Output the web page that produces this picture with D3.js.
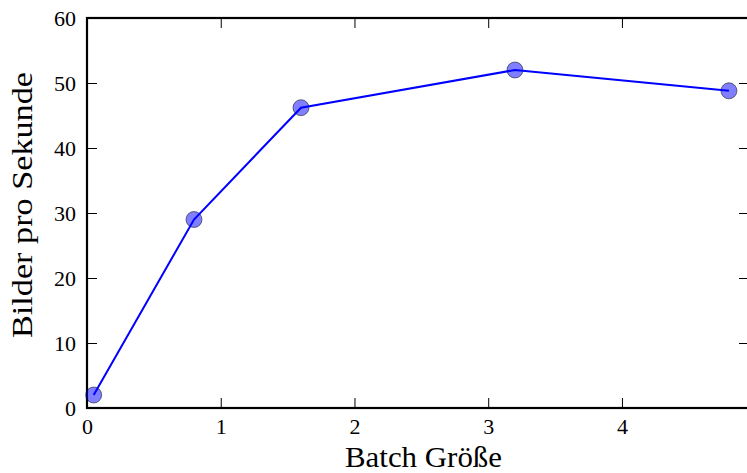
<!DOCTYPE html>
<html>
<head>
<meta charset="utf-8">
<script src="https://cdn.jsdelivr.net/npm/d3@7"></script>
<style>
  html, body { margin: 0; padding: 0; background: #fff; }
  svg { display: block; }
  text { font-family: "Liberation Serif", "DejaVu Serif", serif; fill: #000; }
</style>
</head>
<body>
<svg id="chart" width="747" height="473"></svg>
<script>
// Throughput measurements
const batchSizes = [0.05, 0.8, 1.6, 3.2, 4.8];
const imagesPerSecond = [2.0, 29.0, 46.2, 52.0, 48.8];
const xTicks = [0, 1, 2, 3, 4];
const yTicks = [0, 10, 20, 30, 40, 50, 60];

const svg = d3.select("#chart");
const plotLeft = 87, plotRight = 749, plotTop = 18, plotBottom = 408;

const x = d3.scaleLinear().domain([0, 4.95]).range([plotLeft, plotRight]);
const y = d3.scaleLinear().domain([0, 60]).range([plotBottom, plotTop]);

const tickLen = 10;

// inward ticks on all four sides
const axes = svg.append("g");
axes.append("g").attr("transform", `translate(0,${plotBottom})`)
  .call(d3.axisBottom(x).tickValues(xTicks).tickSize(-tickLen).tickPadding(10).tickFormat(d3.format("d")));
axes.append("g").attr("transform", `translate(0,${plotTop})`)
  .call(d3.axisTop(x).tickValues(xTicks).tickSize(-tickLen).tickFormat(""));
axes.append("g").attr("transform", `translate(${plotLeft},0)`)
  .call(d3.axisLeft(y).tickValues(yTicks).tickSize(-tickLen).tickPadding(11).tickFormat(d3.format("d")));
axes.append("g").attr("transform", `translate(${plotRight},0)`)
  .call(d3.axisRight(y).tickValues(yTicks).tickSize(-tickLen).tickFormat(""));

axes.selectAll("g").attr("font-family", null).attr("font-size", null);
axes.selectAll(".domain").remove();
axes.selectAll(".tick line").attr("stroke", "#000").attr("stroke-width", 1);
axes.selectAll(".tick text")
  .style("font-size", "22px")
  .attr("fill", "#000");

// frame
svg.append("rect")
  .attr("x", plotLeft).attr("y", plotTop)
  .attr("width", plotRight - plotLeft).attr("height", plotBottom - plotTop)
  .attr("fill", "none").attr("stroke", "#000").attr("stroke-width", 2.2);

const pts = batchSizes.map((b, i) => [b, imagesPerSecond[i]]);

// markers
svg.append("g").selectAll("circle").data(pts).join("circle")
  .attr("cx", d => x(d[0])).attr("cy", d => y(d[1]))
  .attr("r", 8)
  .attr("fill", "rgba(0,0,255,0.5)")
  .attr("stroke", "rgba(0,0,0,0.5)")
  .attr("stroke-width", 1);

// line
svg.append("path").datum(pts)
  .attr("fill", "none").attr("stroke", "#0000ff").attr("stroke-width", 2)
  .attr("d", d3.line().x(d => x(d[0])).y(d => y(d[1])));

// axis titles
svg.append("text")
  .attr("x", 423.5).attr("y", 467)
  .attr("text-anchor", "middle").style("font-size", "29px")
  .attr("textLength", 157).attr("lengthAdjust", "spacingAndGlyphs")
  .text("Batch Größe");
svg.append("text")
  .attr("transform", `translate(32,205) rotate(-90)`)
  .attr("text-anchor", "middle").style("font-size", "29px")
  .attr("textLength", 266).attr("lengthAdjust", "spacingAndGlyphs")
  .text("Bilder pro Sekunde");
</script>
</body>
</html>
